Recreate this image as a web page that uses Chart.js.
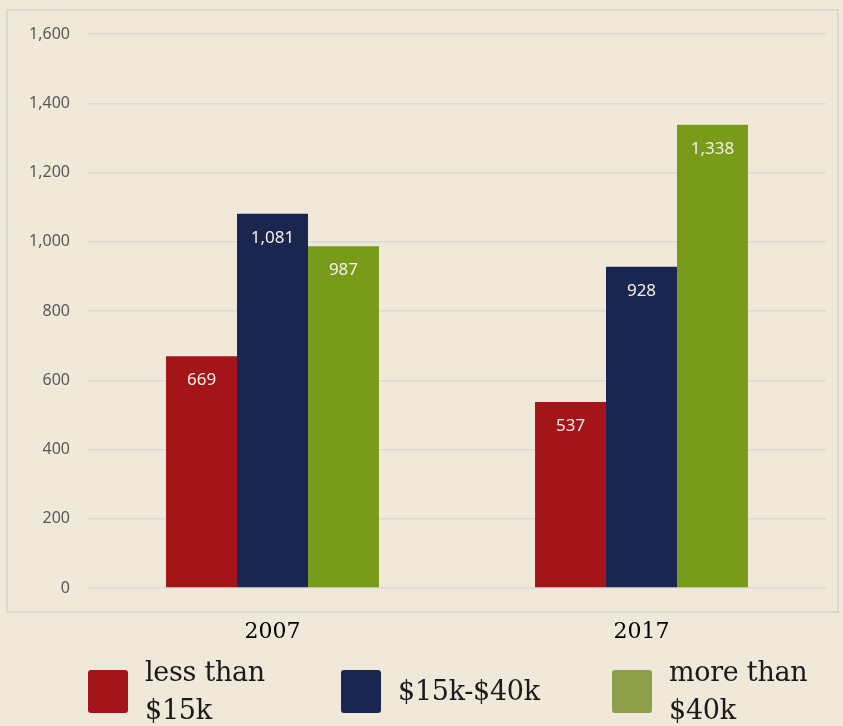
<!DOCTYPE html>
<html>
<head>
<meta charset="utf-8">
<script src="https://cdn.jsdelivr.net/npm/chart.js@4.4.1/dist/chart.umd.min.js"></script>
<style>
  html, body { margin: 0; padding: 0; background: #f0e8d8; }
  #wrap { position: relative; width: 843px; height: 726px; overflow: hidden; }
  #chartBox { position: absolute; left: 0; top: 0; width: 843px; height: 656px; }
  #legend { position: absolute; left: 88px; top: 656px; height: 70px; display: flex; align-items: center; }
  .item { display: flex; align-items: center; }
  .swatch { width: 40px; height: 43px; border-radius: 3px; margin-right: 17px; flex: none; }
  .txt { font-family: "DejaVu Serif", serif; font-size: 27px; line-height: 38px; color: #1a1a1a; width: 160px; letter-spacing: -0.3px; }
</style>
</head>
<body>
<div id="wrap">
  <div id="chartBox"><canvas id="incomeChart" width="843" height="656"></canvas></div>
  <div id="legend"></div>
</div>
<script>
const years = ["2007", "2017"];
const seriesNames = ["less than $15k", "$15k-$40k", "more than $40k"];
const under15k = [669, 537];
const mid15to40k = [1081, 928];
const over40k = [987, 1338];
const yTicks = [0, 200, 400, 600, 800, 1000, 1200, 1400, 1600];

const barColors = ["#a51419", "#1a2550", "#789b19"];
const swatchColors = ["#a51419", "#1a2550", "#8d9f4a"];
const seriesValues = [under15k, mid15to40k, over40k];

// frame around the plot + bar value labels
const framePlugin = {
  id: "frame",
  beforeDraw(chart) {
    const c = chart.ctx;
    c.save();
    c.fillStyle = "#f0e8d8";
    c.fillRect(0, 0, chart.width, chart.height);
    c.strokeStyle = "#d9d8d2";
    c.lineWidth = 2;
    c.strokeRect(7, 10, 831, 602);
    c.restore();
  },
  afterDatasetsDraw(chart) {
    const c = chart.ctx;
    c.save();
    c.font = "17px 'Noto Sans', sans-serif";
    c.fillStyle = "#f4f1e8";
    c.textAlign = "center";
    c.textBaseline = "middle";
    chart.data.datasets.forEach((ds, i) => {
      chart.getDatasetMeta(i).data.forEach((bar, j) => {
        c.fillText(ds.data[j].toLocaleString("en-US"), bar.x, bar.y + 24);
      });
    });
    c.restore();
  }
};

const ctx = document.getElementById("incomeChart").getContext("2d");
new Chart(ctx, {
  type: "bar",
  data: {
    labels: years,
    datasets: seriesNames.map((name, i) => ({
      label: name,
      data: seriesValues[i],
      backgroundColor: barColors[i],
      borderWidth: 0,
      categoryPercentage: 0.577,
      barPercentage: 1.0
    }))
  },
  options: {
    responsive: false,
    animation: false,
    layout: { padding: { left: 0, right: 17, top: 34, bottom: 0 } },
    plugins: {
      legend: { display: false },
      tooltip: { enabled: false }
    },
    scales: {
      x: {
        grid: { display: false, drawTicks: false },
        border: { display: false },
        ticks: {
          padding: 31,
          color: "#000",
          font: { family: "'DejaVu Serif', serif", size: 22 }
        },
        afterFit(scale) { scale.height = 68; }
      },
      y: {
        min: 0,
        max: 1600,
        afterBuildTicks(scale) { scale.ticks = yTicks.map(v => ({ value: v })); },
        grid: { color: "#dcdad4", lineWidth: 1.5, drawTicks: false },
        border: { display: false },
        ticks: {
          padding: 18,
          color: "#595959",
          font: { family: "'Noto Sans', sans-serif", size: 16 },
          callback: v => v.toLocaleString("en-US")
        },
        afterFit(scale) { scale.width = 88; }
      }
    }
  },
  plugins: [framePlugin]
});

// HTML legend, built from the series arrays
const legend = document.getElementById("legend");
seriesNames.forEach((name, i) => {
  const item = document.createElement("div");
  item.className = "item";
  item.style.marginRight = i === 0 ? "36px" : "54px";
  const sw = document.createElement("div");
  sw.className = "swatch";
  sw.style.background = swatchColors[i];
  const t = document.createElement("div");
  t.className = "txt";
  t.textContent = name;
  item.appendChild(sw);
  item.appendChild(t);
  legend.appendChild(item);
});
</script>
</body>
</html>
